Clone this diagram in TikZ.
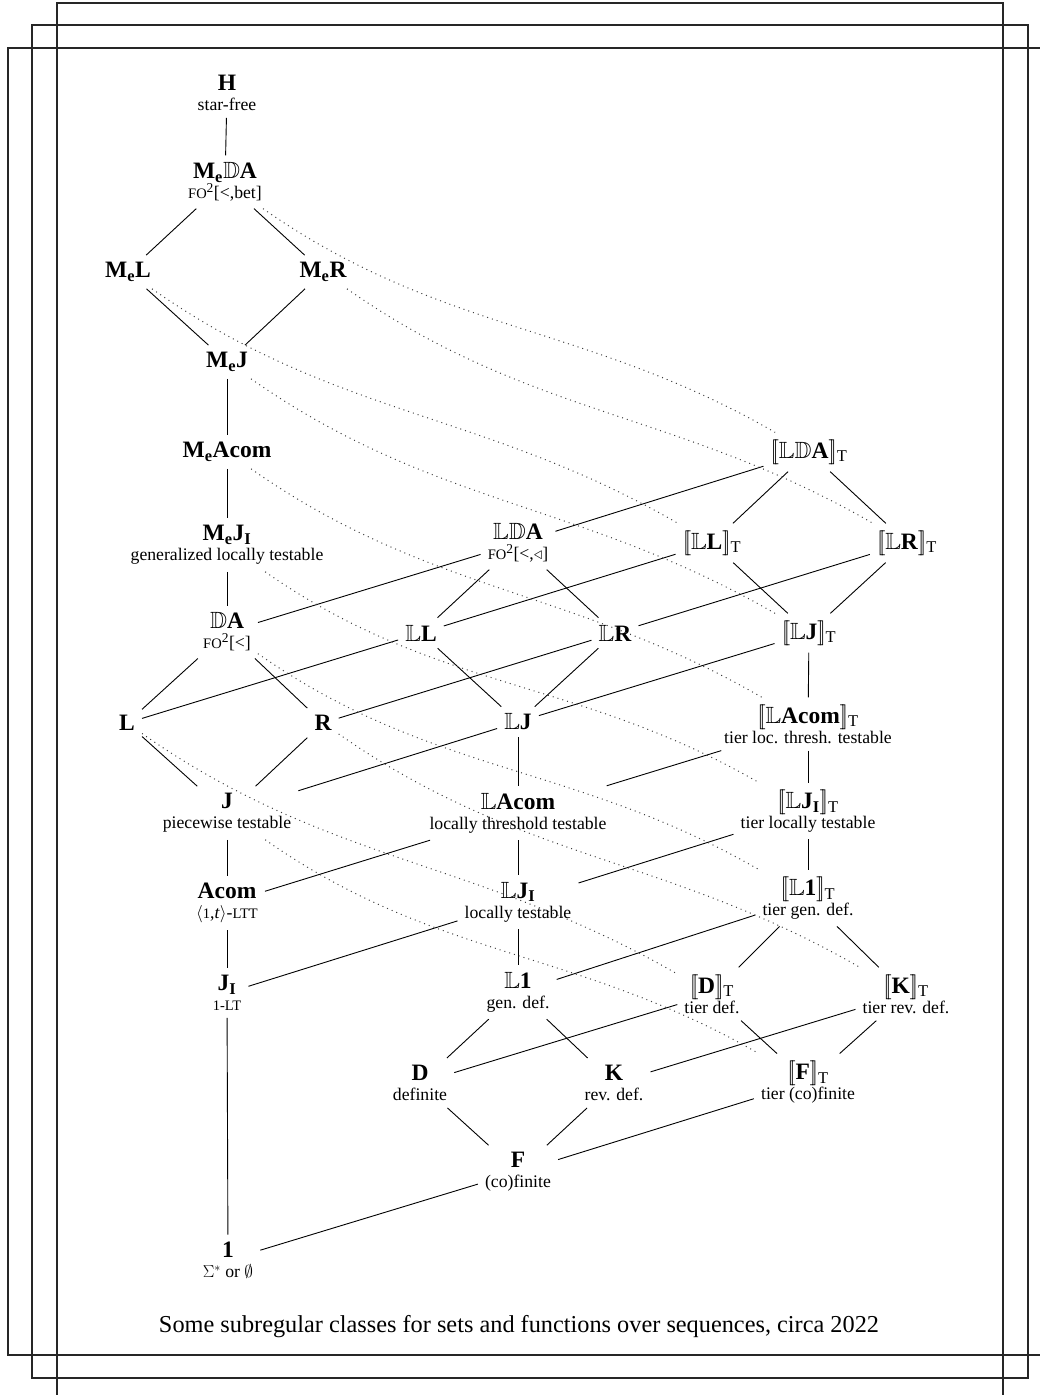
\documentclass[tikz,border=0pt]{standalone}
\usepackage{amssymb}
\usepackage[no-math]{fontspec}
\setmainfont{Liberation Serif}
\newcommand{\labsz}{\fontsize{23.5}{26}\selectfont}
\newcommand{\subsz}{\fontsize{17.7}{20}\selectfont}
\newcommand{\smc}[1]{{\fontsize{14.5}{14.5}\selectfont #1}}
\newcommand{\sqr}{\textsuperscript{\fontsize{13.5}{13.5}\selectfont 2}}
\newcommand{\lbr}{$[\mkern-3mu[$}
\newcommand{\rbr}{$]\mkern-3mu]$}
\newcommand{\bbL}{$\mathbb{L}$}
\newcommand{\bbD}{$\mathbb{D}$}
\newcommand{\Me}{M\textsubscript{e}}
\tikzset{
  cls/.style={inner sep=7pt, align=center, font=\subsz},
  conn/.style={line width=0.9pt},
  dotl/.style={line width=1pt, dash pattern=on 1pt off 4pt, black!75},
  frame/.style={line width=1.1pt, black!85}
}
\begin{document}
\begin{tikzpicture}[x=1pt,y=1pt]
\useasboundingbox (0,0) rectangle (1039,1395);
% frames
\draw[frame] (57,-5) -- (57,1392) -- (1003,1392) -- (1003,-5);
\draw[frame] (32,17) rectangle (1028,1370);
\draw[frame] (1045,40) -- (8,40) -- (8,1347) -- (1045,1347);
% column 1
\node[cls] (H) at (227,1302) {{\labsz\bfseries H}\\star-free};
\node[cls] (MeDA) at (225,1213) {{\labsz\bfseries \Me\bbD A}\\\smc{FO}\sqr[<,bet]};
\node[cls] (MeL) at (128,1123) {\labsz\bfseries \Me L};
\node[cls] (MeR) at (323,1123) {\labsz\bfseries \Me R};
\node[cls] (MeJ) at (227,1033) {\labsz\bfseries \Me J};
\node[cls] (MeAcom) at (227,943) {\labsz\bfseries \Me Acom};
\node[cls] (MeJI) at (227,850) {{\labsz\bfseries \Me J\textsubscript{I}}\\generalized locally testable};
\node[cls] (DA) at (227,763) {{\labsz\bfseries \bbD A}\\\smc{FO}\sqr[<]};
\node[cls] (L) at (127,672) {\labsz\bfseries L};
\node[cls] (R) at (323,672) {\labsz\bfseries R};
\node[cls] (J) at (227,582) {{\labsz\bfseries J}\\piecewise testable};
\node[cls] (Acom) at (227,492) {{\labsz\bfseries Acom}\\$\langle$\smc{1},\textit{t}$\rangle$-\smc{LTT}};
\node[cls] (JI) at (227,402) {{\labsz\bfseries J\textsubscript{I}}\\\smc{1-LT}};
\node[cls] (One) at (228,135) {{\labsz\bfseries 1}\\$\Sigma^*$ or $\emptyset$};
% column 2
\node[cls] (LDA) at (518,852) {{\labsz\bfseries \bbL\bbD A}\\\smc{FO}\sqr[<,$\triangleleft$]};
\node[cls] (LL) at (421,762) {\labsz\bfseries \bbL L};
\node[cls] (LR) at (615,762) {\labsz\bfseries \bbL R};
\node[cls] (LJ) at (518,673) {\labsz\bfseries \bbL J};
\node[cls] (LAcom) at (518,582) {{\labsz\bfseries \bbL Acom}\\locally threshold testable};
\node[cls] (LJI) at (518,493) {{\labsz\bfseries \bbL J\textsubscript{I}}\\locally testable};
\node[cls] (L1) at (518,403) {{\labsz\bfseries \bbL 1}\\gen. def.};
\node[cls] (D) at (420,312) {{\labsz\bfseries D}\\definite};
\node[cls] (K) at (614,312) {{\labsz\bfseries K}\\rev. def.};
\node[cls] (F) at (518,223) {{\labsz\bfseries F}\\(co)finite};
% column 3
\node[cls] (TLDA) at (809,943) {\labsz\lbr\bbL\bbD\textbf{A}\rbr\textsubscript{T}};
\node[cls] (TLL) at (712,852) {\labsz\lbr\bbL\textbf{L}\rbr\textsubscript{T}};
\node[cls] (TLR) at (907,852) {\labsz\lbr\bbL\textbf{R}\rbr\textsubscript{T}};
\node[cls] (TLJ) at (809,762) {\labsz\lbr\bbL\textbf{J}\rbr\textsubscript{T}};
\node[cls] (TLAcom) at (808,671) {{\labsz\lbr\bbL\textbf{Acom}\rbr\textsubscript{T}}\\tier loc. thresh. testable};
\node[cls] (TLJI) at (808,584) {{\labsz\lbr\bbL\textbf{J\textsubscript{I}}\rbr\textsubscript{T}}\\tier locally testable};
\node[cls] (TL1) at (808,497) {{\labsz\lbr\bbL\textbf{1}\rbr\textsubscript{T}}\\tier gen. def.};
\node[cls] (TD) at (712,401) {{\labsz\lbr\textbf{D}\rbr\textsubscript{T}}\\tier def.};
\node[cls] (TK) at (906,401) {{\labsz\lbr\textbf{K}\rbr\textsubscript{T}}\\tier rev. def.};
\node[cls] (TF) at (808,313) {{\labsz\lbr\textbf{F}\rbr\textsubscript{T}}\\tier (co)finite};
% caption
\node[font=\fontsize{24.3}{27}\selectfont] (cap) at (519,68) {Some subregular classes for sets and functions over sequences, circa 2022};
% column 1 edges
\draw[conn] (H) -- (MeDA);
\draw[conn] (MeDA) -- (MeL);
\draw[conn] (MeDA) -- (MeR);
\draw[conn] (MeL) -- (MeJ);
\draw[conn] (MeR) -- (MeJ);
\draw[conn] (MeJ) -- (MeAcom);
\draw[conn] (MeAcom) -- (MeJI);
\draw[conn] (MeJI) -- (DA);
\draw[conn] (DA) -- (L);
\draw[conn] (DA) -- (R);
\draw[conn] (L) -- (J);
\draw[conn] (R) -- (J);
\draw[conn] (J) -- (Acom);
\draw[conn] (Acom) -- (JI);
\draw[conn] (JI) -- (One);
% column 2 edges
\draw[conn] (LDA) -- (LL);
\draw[conn] (LDA) -- (LR);
\draw[conn] (LL) -- (LJ);
\draw[conn] (LR) -- (LJ);
\draw[conn] (LJ) -- (LAcom);
\draw[conn] (LAcom) -- (LJI);
\draw[conn] (LJI) -- (L1);
\draw[conn] (L1) -- (D);
\draw[conn] (L1) -- (K);
\draw[conn] (D) -- (F);
\draw[conn] (K) -- (F);
% column 3 edges
\draw[conn] (TLDA) -- (TLL);
\draw[conn] (TLDA) -- (TLR);
\draw[conn] (TLL) -- (TLJ);
\draw[conn] (TLR) -- (TLJ);
\draw[conn] (TLJ) -- (TLAcom);
\draw[conn] (TLAcom) -- (TLJI);
\draw[conn] (TLJI) -- (TL1);
\draw[conn] (TL1) -- (TD);
\draw[conn] (TL1) -- (TK);
\draw[conn] (TD) -- (TF);
\draw[conn] (TK) -- (TF);
% cross edges col1 -> col2
\draw[conn] (DA) -- (LDA);
\draw[conn] (L) -- (LL);
\draw[conn] (R) -- (LR);
\draw[conn] (J) -- (LJ);
\draw[conn] (Acom) -- (LAcom);
\draw[conn] (JI) -- (LJI);
\draw[conn] (One) -- (F);
% cross edges col2 -> col3
\draw[conn] (LDA) -- (TLDA);
\draw[conn] (LL) -- (TLL);
\draw[conn] (LR) -- (TLR);
\draw[conn] (LJ) -- (TLJ);
\draw[conn] (LAcom) -- (TLAcom);
\draw[conn] (LJI) -- (TLJI);
\draw[conn] (L1) -- (TL1);
\draw[conn] (D) -- (TD);
\draw[conn] (K) -- (TK);
\draw[conn] (F) -- (TF);
% dotted curves col1 -> col3
\draw[dotl] (MeDA) to[out=-35,in=150] (TLDA);
\draw[dotl] (MeL) to[out=-35,in=150] (TLL);
\draw[dotl] (MeR) to[out=-35,in=150] (TLR);
\draw[dotl] (MeJ) to[out=-35,in=150] (TLJ);
\draw[dotl] (MeAcom) to[out=-35,in=150] (TLAcom);
\draw[dotl] (MeJI) to[out=-35,in=150] (TLJI);
\draw[dotl] (DA) to[out=-35,in=150] (TL1);
\draw[dotl] (L) to[out=-35,in=150] (TD);
\draw[dotl] (R) to[out=-35,in=150] (TK);
\draw[dotl] (J) to[out=-35,in=150] (TF);
\end{tikzpicture}
\end{document}
